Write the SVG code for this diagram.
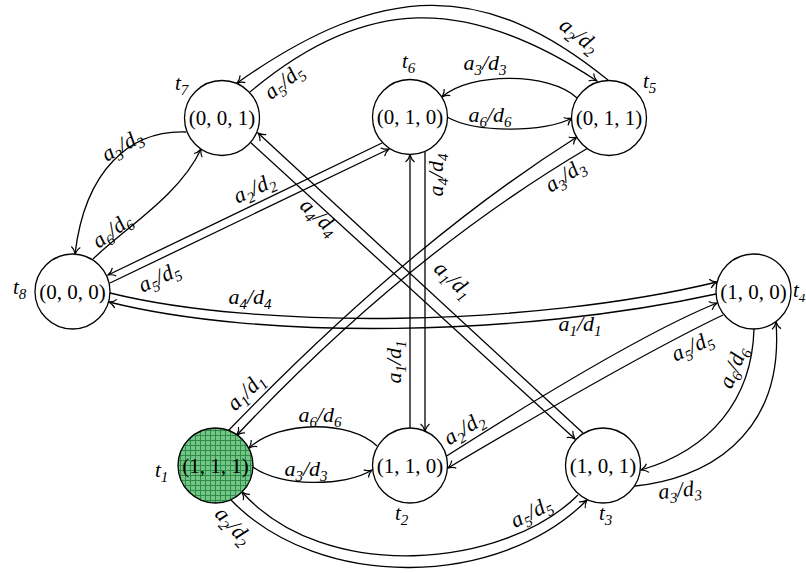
<svg xmlns="http://www.w3.org/2000/svg" width="806" height="573" viewBox="0 0 806 573">
<style>
.nd{fill:#fff;stroke:#000;stroke-width:1.3}
.n{font-family:"Liberation Serif",serif;font-size:21px;text-anchor:middle;fill:#000}
.t{font-family:"Liberation Serif",serif;font-style:italic;font-size:21px;fill:#000}
.l{font-family:"Liberation Serif",serif;font-style:italic;font-size:22px;text-anchor:middle;fill:#000}
.s{font-size:15px}
.e{fill:none;stroke:#000;stroke-width:1.3}
.a{marker-end:url(#ar)}
</style>
<defs>
<marker id="ar" viewBox="-10 -6 12 12" markerWidth="12" markerHeight="12" refX="0" refY="0" orient="auto" markerUnits="userSpaceOnUse">
<path d="M-7,-4.5 C-5,-1.5 -1.5,-0.5 0,0 C-1.5,0.5 -5,1.5 -7,4.5" fill="none" stroke="#000" stroke-width="1.2"/>
</marker>
<pattern id="hatch" width="5" height="5" patternUnits="userSpaceOnUse">
<rect width="5" height="5" fill="#74c686"/>
<path d="M0,0.5H5M0.5,0V5" stroke="#2e8b4a" stroke-width="1"/>
</pattern>
</defs>

<g id="connectors">
<path class="e a" d="M608,80 C485,-20 383,-20 237,83"/>
<path class="e a" d="M250,92 C365,-5 467,-5 597,81"/>
<path class="e a" d="M577,98 C550,72 470,72 442,97"/>
<path class="e a" d="M447,117 C475,133 545,133 572,118"/>
<path class="e a" d="M186,132 C130,130 85,170 75,254"/>
<path class="e a" d="M93,259 C125,228 180,195 201,149"/>
<path class="e a" d="M382,143 L108,275"/>
<path class="e a" d="M110,283 L389,149"/>
<path class="e a" d="M583,433 L258,133"/>
<path class="e a" d="M250,142 L575,439"/>
<path class="e a" d="M410,428 L410,155"/>
<path class="e a" d="M425,152 L425,431"/>
<path class="e a" d="M110,293 C260,330 530,327 717,282"/>
<path class="e a" d="M716,294 C520,337 260,340 109,302"/>
<path class="e a" d="M228,431 Q409,243 577,137"/>
<path class="e a" d="M588,148 Q405,256 237,435"/>
<path class="e a" d="M445,457 Q633,337 717,303"/>
<path class="e a" d="M723,315 Q639,355 448,468"/>
<path class="e a" d="M754,329 C752,400 710,450 641,470"/>
<path class="e a" d="M635,486 C700,480 785,440 776,322"/>
<path class="e a" d="M377,446 C350,420 280,420 249,448"/>
<path class="e a" d="M253,467 C280,487 345,487 372,470"/>
<path class="e a" d="M578,495 C505,568 325,585 242,492"/>
<path class="e a" d="M231,500 C320,592 500,588 587,500"/>
</g>

<g id="edge-labels">
<text class="l" transform="translate(578,37) rotate(38)" y="5">a<tspan class="s" dy="5">2</tspan><tspan dy="-5">/d</tspan><tspan class="s" dy="5">2</tspan></text>
<text class="l" transform="translate(285,83) rotate(-38)" y="5">a<tspan class="s" dy="5">5</tspan><tspan dy="-5">/d</tspan><tspan class="s" dy="5">5</tspan></text>
<text class="l" x="485" y="70">a<tspan class="s" dy="5">3</tspan><tspan dy="-5">/d</tspan><tspan class="s" dy="5">3</tspan></text>
<text class="l" x="490" y="122">a<tspan class="s" dy="5">6</tspan><tspan dy="-5">/d</tspan><tspan class="s" dy="5">6</tspan></text>
<text class="l" transform="translate(123,147) rotate(-30)" y="5">a<tspan class="s" dy="5">3</tspan><tspan dy="-5">/d</tspan><tspan class="s" dy="5">3</tspan></text>
<text class="l" transform="translate(113,232) rotate(-37)" y="5">a<tspan class="s" dy="5">6</tspan><tspan dy="-5">/d</tspan><tspan class="s" dy="5">6</tspan></text>
<text class="l" transform="translate(255,190) rotate(-25)" y="5">a<tspan class="s" dy="5">2</tspan><tspan dy="-5">/d</tspan><tspan class="s" dy="5">2</tspan></text>
<text class="l" transform="translate(160,279) rotate(-25)" y="5">a<tspan class="s" dy="5">5</tspan><tspan dy="-5">/d</tspan><tspan class="s" dy="5">5</tspan></text>
<text class="l" x="250" y="304">a<tspan class="s" dy="5">4</tspan><tspan dy="-5">/d</tspan><tspan class="s" dy="5">4</tspan></text>
<text class="l" x="580" y="331">a<tspan class="s" dy="5">1</tspan><tspan dy="-5">/d</tspan><tspan class="s" dy="5">1</tspan></text>
<text class="l" transform="translate(318,218) rotate(43)" y="5">a<tspan class="s" dy="5">4</tspan><tspan dy="-5">/d</tspan><tspan class="s" dy="5">4</tspan></text>
<text class="l" transform="translate(452,281) rotate(43)" y="5">a<tspan class="s" dy="5">1</tspan><tspan dy="-5">/d</tspan><tspan class="s" dy="5">1</tspan></text>
<text class="l" transform="translate(438,175) rotate(-90)" y="5">a<tspan class="s" dy="5">4</tspan><tspan dy="-5">/d</tspan><tspan class="s" dy="5">4</tspan></text>
<text class="l" transform="translate(396,362) rotate(-90)" y="5">a<tspan class="s" dy="5">1</tspan><tspan dy="-5">/d</tspan><tspan class="s" dy="5">1</tspan></text>
<text class="l" transform="translate(247,393) rotate(-45)" y="5">a<tspan class="s" dy="5">1</tspan><tspan dy="-5">/d</tspan><tspan class="s" dy="5">1</tspan></text>
<text class="l" transform="translate(566,177) rotate(-33)" y="5">a<tspan class="s" dy="5">3</tspan><tspan dy="-5">/d</tspan><tspan class="s" dy="5">3</tspan></text>
<text class="l" transform="translate(465,430) rotate(-32)" y="5">a<tspan class="s" dy="5">2</tspan><tspan dy="-5">/d</tspan><tspan class="s" dy="5">2</tspan></text>
<text class="l" transform="translate(693,348) rotate(-25)" y="5">a<tspan class="s" dy="5">5</tspan><tspan dy="-5">/d</tspan><tspan class="s" dy="5">5</tspan></text>
<text class="l" transform="translate(735,368) rotate(-68)" y="5">a<tspan class="s" dy="5">6</tspan><tspan dy="-5">/d</tspan><tspan class="s" dy="5">6</tspan></text>
<text class="l" transform="translate(680,492) rotate(-6)" y="5">a<tspan class="s" dy="5">3</tspan><tspan dy="-5">/d</tspan><tspan class="s" dy="5">3</tspan></text>
<text class="l" x="320" y="422">a<tspan class="s" dy="5">6</tspan><tspan dy="-5">/d</tspan><tspan class="s" dy="5">6</tspan></text>
<text class="l" x="306" y="476">a<tspan class="s" dy="5">3</tspan><tspan dy="-5">/d</tspan><tspan class="s" dy="5">3</tspan></text>
<text class="l" transform="translate(232,527) rotate(47)" y="5">a<tspan class="s" dy="5">2</tspan><tspan dy="-5">/d</tspan><tspan class="s" dy="5">2</tspan></text>
<text class="l" transform="translate(532,514) rotate(-27)" y="5">a<tspan class="s" dy="5">5</tspan><tspan dy="-5">/d</tspan><tspan class="s" dy="5">5</tspan></text>
</g>

<g id="t7"><circle class="nd" cx="222" cy="118" r="37.5"/><text class="n" x="222" y="125">(0, 0, 1)</text><text class="t" x="175" y="90">t<tspan class="s" dy="5">7</tspan></text></g>
<g id="t6"><circle class="nd" cx="410" cy="117" r="37.5"/><text class="n" x="410" y="124">(0, 1, 0)</text><text class="t" x="402" y="68">t<tspan class="s" dy="5">6</tspan></text></g>
<g id="t5"><circle class="nd" cx="609" cy="118" r="37.5"/><text class="n" x="609" y="125">(0, 1, 1)</text><text class="t" x="643" y="88">t<tspan class="s" dy="5">5</tspan></text></g>
<g id="t8"><circle class="nd" cx="72.5" cy="291.5" r="37.5"/><text class="n" x="72.5" y="298.5">(0, 0, 0)</text><text class="t" x="13" y="294">t<tspan class="s" dy="5">8</tspan></text></g>
<g id="t4"><circle class="nd" cx="753.5" cy="291.5" r="37.5"/><text class="n" x="753.5" y="298.5">(1, 0, 0)</text><text class="t" x="793" y="297" font-size="20">t<tspan font-size="13" dy="5">4</tspan></text></g>
<g id="t1"><circle class="nd" cx="215.5" cy="465.5" r="37.5" style="fill:url(#hatch)"/><text class="n" x="215.5" y="472.5">(1, 1, 1)</text><text class="t" x="155" y="477">t<tspan class="s" dy="5">1</tspan></text></g>
<g id="t2"><circle class="nd" cx="410" cy="465.5" r="37.5"/><text class="n" x="410" y="472.5">(1, 1, 0)</text><text class="t" x="395" y="520">t<tspan class="s" dy="5">2</tspan></text></g>
<g id="t3"><circle class="nd" cx="603" cy="465.5" r="37.5"/><text class="n" x="603" y="472.5">(1, 0, 1)</text><text class="t" x="599" y="520">t<tspan class="s" dy="5">3</tspan></text></g>
</svg>
